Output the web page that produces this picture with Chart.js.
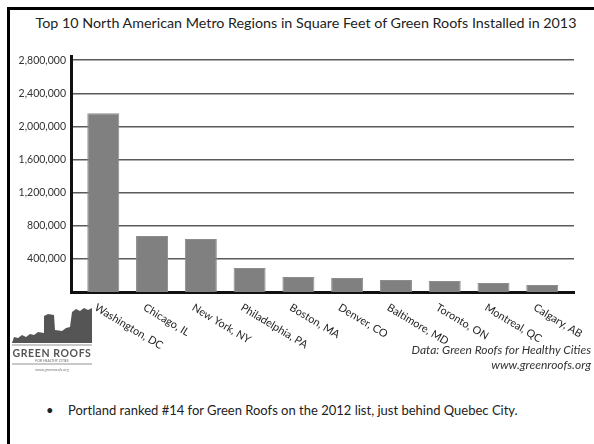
<!DOCTYPE html>
<html>
<head>
<meta charset="utf-8">
<script src="https://cdn.jsdelivr.net/npm/chart.js@4"></script>
<style>
  html, body { margin: 0; padding: 0; background: #fff; }
  body { width: 594px; height: 444px; position: relative; overflow: hidden; font-family: Lato, sans-serif; }
  #frame { position: absolute; left: 7px; top: 7px; right: -10px; bottom: -10px; border-left: 3px solid #000; border-top: 3px solid #000; }
  #title { position: absolute; left: 10px; top: 14px; width: 592px; line-height: 17px; text-align: center; font-size: 14.3px; color: #222; white-space: nowrap; }
  #wrap { position: absolute; left: 10px; top: 10px; width: 592px; height: 360px; }
  #logo { position: absolute; left: 10px; top: 304px; }
  .credit { position: absolute; right: 3px; font-style: italic; font-size: 12px; color: #333; text-align: right; }
  #bullet { position: absolute; left: 46px; top: 402px; font-size: 13px; color: #222; }
  #bullet span { display: inline-block; width: 22px; }
</style>
</head>
<body>
<div id="frame"></div>
<div id="title"></div>
<div id="wrap"><canvas id="roofChart"></canvas></div>

<svg id="logo" width="86" height="72" viewBox="0 0 86 72">
  <polygon fill="#555" points="2,39 4,33 8,34 12,31 16,33 20,30 24,31 28,28 34,29 34,12 38,10 44,11 45,26 52,27 56,24 60,23 62,8 66,5 70,7 74,4 78,6 82,4 82,39"/>
  <line x1="2" y1="41" x2="82" y2="41" stroke="#777" stroke-width="0.8"/>
  <text x="42" y="53" text-anchor="middle" font-family="Lato" font-weight="bold" font-size="10.5" fill="#555" letter-spacing="0.6">GREEN ROOFS</text>
  <text x="42" y="58" text-anchor="middle" font-family="Lato" font-size="3.4" fill="#666">FOR HEALTHY CITIES</text>
  <line x1="2" y1="60" x2="82" y2="60" stroke="#777" stroke-width="0.8"/>
  <text x="42" y="67" text-anchor="middle" font-family="Lato" font-style="italic" font-size="4" fill="#777">www.greenroofs.org</text>
</svg>

<div class="credit" style="top: 342px;">Data: Green Roofs for Healthy Cities</div>
<div class="credit" style="top: 357px;">www.greenroofs.org</div>

<div id="bullet"><span>•</span>Portland ranked #14 for Green Roofs on the 2012 list, just behind Quebec City.</div>

<script>
const chartTitle = 'Top 10 North American Metro Regions in Square Feet of Green Roofs Installed in 2013';
const cities = ['Washington, DC', 'Chicago, IL', 'New York, NY', 'Philadelphia, PA', 'Boston, MA',
                'Denver, CO', 'Baltimore, MD', 'Toronto, ON', 'Montreal, QC', 'Calgary, AB'];
const sqft = [2160000, 675000, 640000, 290000, 181000, 169000, 145000, 133000, 109000, 85000];
const yTicks = [400000, 800000, 1200000, 1600000, 2000000, 2400000, 2800000];

document.getElementById('title').textContent = chartTitle;

// rotated city names hanging below the axis, left aligned like the original
const cityLabels = {
    id: 'cityLabels',
    afterDraw(chart) {
        const { ctx, chartArea, scales: { x } } = chart;
        ctx.save();
        ctx.font = '10.8px Lato';
        ctx.fillStyle = '#222';
        ctx.textAlign = 'left';
        ctx.textBaseline = 'top';
        cities.forEach((name, i) => {
            ctx.save();
            ctx.translate(x.getPixelForValue(i) - 5, chartArea.bottom + 10);
            ctx.rotate(31 * Math.PI / 180);
            ctx.fillText(name, 0, 0);
            ctx.restore();
        });
        ctx.restore();
    }
};

new Chart(document.getElementById('roofChart'), {
    type: 'bar',
    data: {
        datasets: [{
            label: 'Square feet',
            data: cities.map((c, i) => ({ x: i, y: sqft[i] })),
            backgroundColor: '#808080',
            borderColor: '#8c8c8c',
            borderWidth: 1,
            barPercentage: 0.656,
            categoryPercentage: 1
        }]
    },
    options: {
        responsive: true,
        maintainAspectRatio: false,
        animation: false,
        layout: { padding: { left: 0, right: 28, top: 46, bottom: 0 } },
        plugins: {
            legend: { display: false },
            tooltip: { enabled: false },
            title: { display: false }
        },
        scales: {
            x: {
                type: 'linear',
                offset: false,
                min: -0.662,
                max: 9.651,
                grid: { display: false, offset: false },
                border: { color: '#111', width: 3 },
                ticks: { display: false },
                afterFit: s => { s.height = 78; }
            },
            y: {
                min: 0,
                max: 2850000,
                afterBuildTicks: s => { s.ticks = yTicks.map(v => ({ value: v })); },
                afterFit: s => { s.width = 61; },
                grid: { color: '#5a5a5a', lineWidth: 1.5, drawTicks: false },
                border: { color: '#111', width: 3 },
                ticks: {
                    padding: 5,
                    color: '#333',
                    font: { family: 'Lato', size: 10.5 },
                    callback: v => v.toLocaleString('en-US')
                }
            }
        }
    },
    plugins: [cityLabels]
});
</script>
</body>
</html>
